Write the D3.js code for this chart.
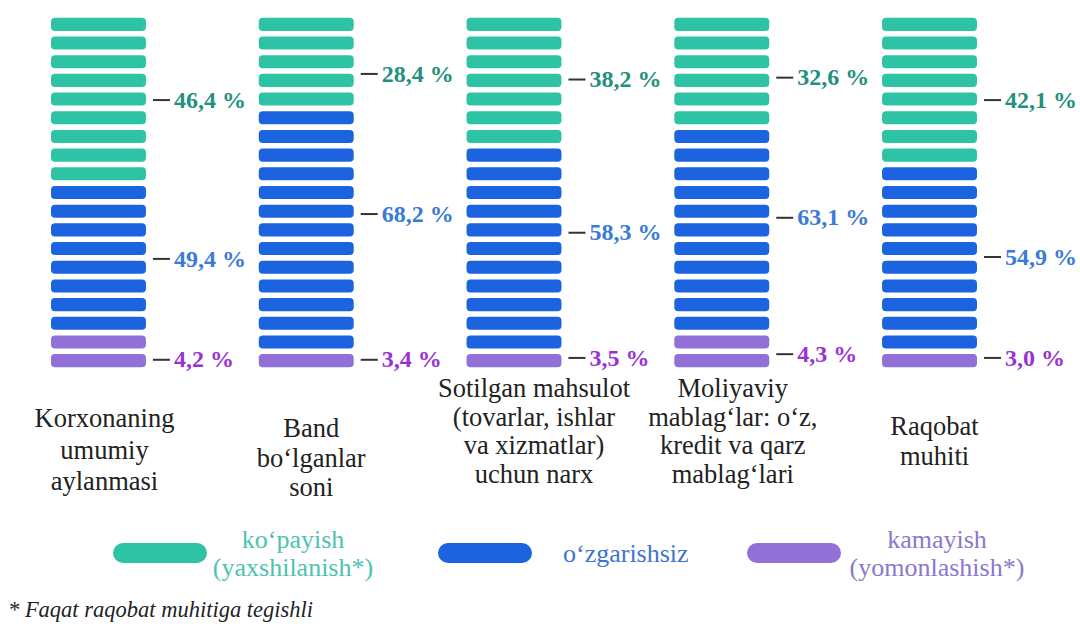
<!DOCTYPE html>
<html>
<head>
<meta charset="utf-8">
<script src="https://cdn.jsdelivr.net/npm/d3@7"></script>
</head>
<body style="margin:0">
<script>
'use strict';

// categories, one entry per column, split into lines as in the print
var categories = [
    ['Korxonaning', 'umumiy', 'aylanmasi'],
    ['Band', 'bo‘lganlar', 'soni'],
    ['Sotilgan mahsulot', '(tovarlar, ishlar', 'va xizmatlar)', 'uchun narx'],
    ['Moliyaviy', 'mablag‘lar: o‘z,', 'kredit va qarz', 'mablag‘lari'],
    ['Raqobat', 'muhiti']
];

// shares in percent
var increaseValues = [46.4, 28.4, 38.2, 32.6, 42.1];
var unchangedValues = [49.4, 68.2, 58.3, 63.1, 54.9];
var decreaseValues = [4.2, 3.4, 3.5, 4.3, 3.0];

// number of cells drawn for each series in every column (19 cells a column)
var increaseCells = [9, 5, 7, 6, 8];
var unchangedCells = [8, 13, 11, 11, 10];
var decreaseCells = [2, 1, 1, 2, 1];

var seriesNames = [['ko‘payish', '(yaxshilanish*)'], ['o‘zgarishsiz'], ['kamayish', '(yomonlashish*)']];
var footnote = '* Faqat raqobat muhitiga tegishli';

// layout only
var labelRows = [
    [4, 2.6, 2.9, 2.8, 4],
    [12.5, 10.1, 11.1, 10.3, 12.4],
    [17.9, 17.9, 17.8, 17.6, 17.8]
];
var categoryShift = [6, 5, 20, 11, 5];
var categoryTop = [427, 437, 397, 397, 435];
var categoryLeading = [31.5, 29.5, 28.5, 28.5, 30];

var width = 1080,
    height = 626,
    fontFamily = '"Liberation Serif"',
    cellColors = ['#2ec3a5', '#1b63df', '#9171d7'],
    valueColors = ['#23907e', '#3a7bd6', '#9a33d2'],
    legendColors = ['#4cc3ae', '#3f72d2', '#8a78cc'],
    rowCount = 19;

var svg = d3.select('body').append('svg').attr('width', width).attr('height', height);

var x = d3.scaleBand().domain(d3.range(categories.length)).range([51, 977]).paddingInner(0.543).paddingOuter(0);
var y = d3.scaleBand().domain(d3.range(rowCount)).range([15, 370]).paddingInner(0.3).paddingOuter(0.15);

function rowY(r) {
    return y(0) + y.bandwidth() / 2 + r * y.step();
}

function fmt(v) {
    return v.toFixed(1).replace('.', ',') + ' %';
}

// build the cells of every column
var cells = [];
categories.forEach(function (c, ci) {
    var counts = [increaseCells[ci], unchangedCells[ci], decreaseCells[ci]],
        row = 0;
    counts.forEach(function (n, si) {
        for (var k = 0; k < n; k++) {
            cells.push({ col: ci, row: row++, series: si });
        }
    });
});

svg.append('g').selectAll('rect').data(cells).enter().append('rect').attr('x', function (d) {
    return x(d.col);
}).attr('y', function (d) {
    return y(d.row);
}).attr('width', x.bandwidth()).attr('height', y.bandwidth()).attr('rx', 4).attr('ry', 4).attr('fill', function (d) {
    return cellColors[d.series];
});

// value labels with a dash
var labels = [];
[increaseValues, unchangedValues, decreaseValues].forEach(function (vals, si) {
    vals.forEach(function (v, ci) {
        labels.push({ col: ci, series: si, value: v, row: labelRows[si][ci] });
    });
});

var lab = svg.append('g').selectAll('g').data(labels).enter().append('g').attr('transform', function (d) {
    return 'translate(' + (x(d.col) + x.bandwidth()) + ',' + rowY(d.row) + ')';
});

lab.append('line').attr('x1', 7).attr('x2', 24).attr('y1', 1).attr('y2', 1).attr('stroke', '#333').attr('stroke-width', 2);

lab.append('text').attr('x', 28).attr('dy', '0.36em').attr('font-family', fontFamily).attr('font-size', 24).attr('font-weight', 'bold').attr('fill', function (d) {
    return valueColors[d.series];
}).text(function (d) {
    return fmt(d.value);
});

// category names under the columns, one text per line
categories.forEach(function (lines, ci) {
    svg.append('g').selectAll('text').data(lines).enter().append('text').attr('text-anchor', 'middle').attr('x', x(ci) + x.bandwidth() / 2 + categoryShift[ci]).attr('y', function (d, k) {
        return categoryTop[ci] + k * categoryLeading[ci];
    }).attr('font-family', fontFamily).attr('font-size', 26.5).attr('fill', '#222').text(function (d) {
        return d;
    });
});

// legend
var legendX = [113, 438, 747];

seriesNames.forEach(function (lines, si) {
    svg.append('rect').attr('x', legendX[si]).attr('y', 543).attr('width', 94).attr('height', 20).attr('rx', 10).attr('ry', 10).attr('fill', cellColors[si]);
    svg.append('g').selectAll('text').data(lines).enter().append('text').attr('text-anchor', lines.length > 1 ? 'middle' : 'start').attr('x', [293, 563, 937][si]).attr('y', function (d, k) {
        return lines.length > 1 ? 548 + k * 28 : 562;
    }).attr('font-family', fontFamily).attr('font-size', 26).attr('fill', legendColors[si]).text(function (d) {
        return d;
    });
});

svg.append('text').attr('x', 8).attr('y', 617).attr('font-family', fontFamily).attr('font-size', 22.5).attr('font-style', 'italic').attr('fill', '#222').text(footnote);
</script>
</body>
</html>
